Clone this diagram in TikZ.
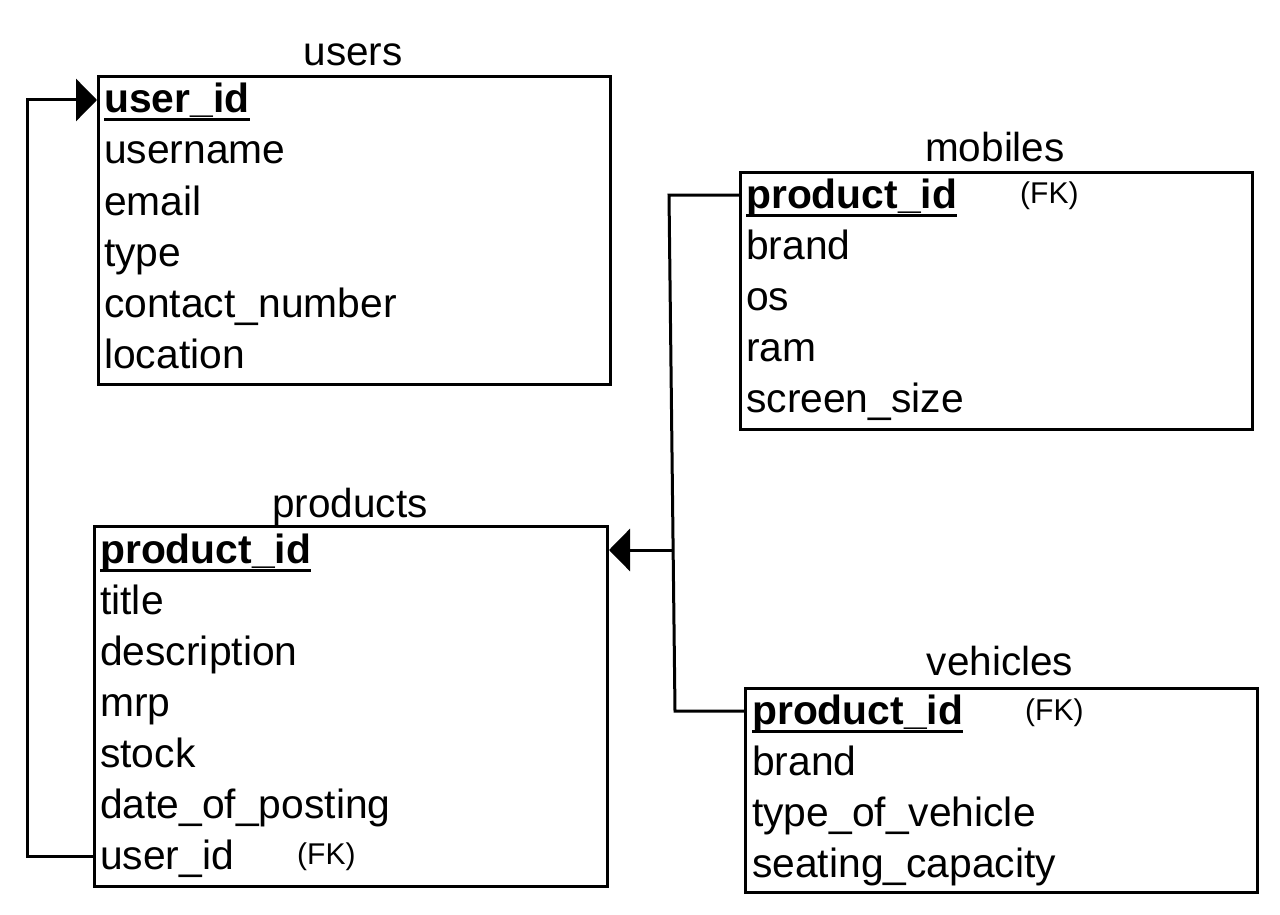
\documentclass[tikz,border=0pt]{standalone}
\usepackage{fontspec}
\setmainfont{Liberation Sans}
\usetikzlibrary{arrows.meta}
\begin{document}
\begin{tikzpicture}[x=1pt,y=-1pt,
  tbl/.style={draw, line width=3pt, anchor=north west, inner sep=0pt},
  fld/.style={anchor=west, inner sep=0pt, text height=29pt, text depth=3pt, font=\fontsize{40.8}{48}\selectfont},
  keyfld/.style={fld, font=\fontsize{40.8}{48}\selectfont\bfseries},
  ttl/.style={anchor=base, inner sep=0pt, font=\fontsize{40.5}{48}\selectfont},
  fk/.style={anchor=west, inner sep=0pt, font=\fontsize{30}{34}\selectfont},
  conn/.style={line width=3pt},
  uline/.style={line width=3pt},
  tip/.style={-{Triangle[length=21pt,width=42pt]}}]
\useasboundingbox (0,0) rectangle (1280,915);

% users
\node[tbl, minimum width=512pt, minimum height=308pt] (users) at (97,75) {};
\node[ttl] (tusers) at (353,66) {users};
\node[keyfld] (u1) at (104,100) {user\_id};
\node[fld] (u2) at (104,151) {username};
\node[fld] (u3) at (104,202) {email};
\node[fld] (u4) at (104,253) {type};
\node[fld] (u5) at (104,304) {contact\_number};
\node[fld] (u6) at (104,355) {location};
\draw[uline] ([yshift=-7pt]u1.base west) -- ([yshift=-7pt]u1.base east);

% products
\node[tbl, minimum width=513pt, minimum height=360pt] (products) at (93,525) {};
\node[ttl] (tproducts) at (350,517) {products};
\node[keyfld] (p1) at (100,550) {product\_id};
\node[fld] (p2) at (100,601) {title};
\node[fld] (p3) at (100,652) {description};
\node[fld] (p4) at (100,703) {mrp};
\node[fld] (p5) at (100,754) {stock};
\node[fld] (p6) at (100,805) {date\_of\_posting};
\node[fld] (p7) at (100,856) {user\_id};
\node[fk] (pfk) at (297,857) {(FK)};
\draw[uline] ([yshift=-7pt]p1.base west) -- ([yshift=-7pt]p1.base east);

% mobiles
\node[tbl, minimum width=512pt, minimum height=257pt] (mobiles) at (739,171) {};
\node[ttl] (tmobiles) at (995,162) {mobiles};
\node[keyfld] (m1) at (746,195) {product\_id};
\node[fld] (m2) at (746,246) {brand};
\node[fld] (m3) at (746,297) {os};
\node[fld] (m4) at (746,348) {ram};
\node[fld] (m5) at (746,399) {screen\_size};
\node[fk] (mfk) at (1020,196) {(FK)};
\draw[uline] ([yshift=-7pt]m1.base west) -- ([yshift=-7pt]m1.base east);

% vehicles
\node[tbl, minimum width=512pt, minimum height=204pt] (vehicles) at (744,687) {};
\node[ttl] (tvehicles) at (1000,675) {vehicles};
\node[keyfld] (v1) at (752,711) {product\_id};
\node[fld] (v2) at (752,762) {brand};
\node[fld] (v3) at (752,813) {type\_of\_vehicle};
\node[fld] (v4) at (752,864) {seating\_capacity};
\node[fk] (vfk) at (1025,713) {(FK)};
\draw[uline] ([yshift=-7pt]v1.base west) -- ([yshift=-7pt]v1.base east);

% connectors
\draw[conn, tip] (p7.west -| products.west) -- ++(-66,0) |- (u1.west -| users.west);

\coordinate (mbend) at (669,195);
\coordinate (vbend) at (675,711);
\coordinate (junc) at (673,550);
\draw[conn] (m1.west -| mobiles.west) -- (mbend) -- (vbend) -- (v1.west -| vehicles.west);
\draw[conn, tip] (junc) -- (p1.east -| products.east);
\end{tikzpicture}
\end{document}
